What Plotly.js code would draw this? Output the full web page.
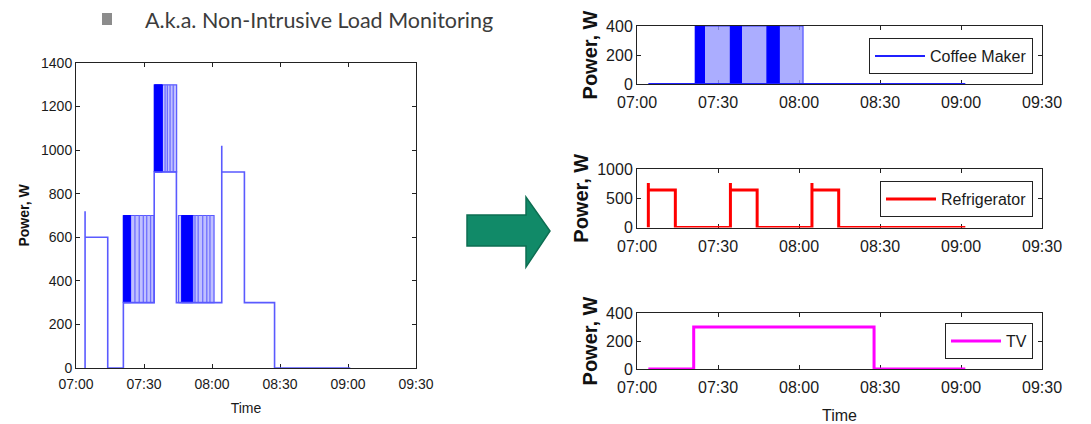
<!DOCTYPE html>
<html>
<head>
<meta charset="utf-8">
<script src="https://cdn.plot.ly/plotly-3.0.1.min.js"></script>
<style>
html,body{margin:0;padding:0;background:#fff;}
#chart{width:1091px;height:424px;}
</style>
</head>
<body>
<div id="chart"></div>
<script>
// ---------- DATA (time in minutes after 07:00) ----------
const tickMinutes = [0, 30, 60, 90, 120, 150];
const tickLabels = ['07:00', '07:30', '08:00', '08:30', '09:00', '09:30'];

// Aggregate (left) step signal
const aggTime  = [4, 4, 4, 14, 20.9, 34.5, 44.3, 64.3, 64.3, 74.3, 87.6, 121];
const aggPower = [0, 720, 600, 0, 300, 900, 300, 1020, 900, 300, 0, 0];
// Aggregate switching bursts
const aggBurstStart = [20.9, 34.5, 45.2];
const aggBurstEnd   = [34.4, 44.4, 60.9];
const aggBurstLow   = [300, 900, 300];
const aggBurstHigh  = [700, 1300, 700];
const aggDenseStart = [20.9, 34.6, 46.6];
const aggDenseEnd   = [24.1, 38.1, 51.5];
const aggSwitchTimes = [26.0, 27.9, 29.7, 31.2, 32.9, 39.3, 40.3, 41.5, 42.9, 52.5, 53.9, 55.9, 57.7, 59.1];
const aggSwitchLow   = [300, 300, 300, 300, 300, 900, 900, 900, 900, 300, 300, 300, 300, 300];
const aggSwitchHigh  = [700, 700, 700, 700, 700, 1300, 1300, 1300, 1300, 700, 700, 700, 700, 700];

// Coffee maker
const coffeeTime  = [4.2, 121.6];
const coffeePower = [0, 0];
const coffeeBurstStart = [21.6, 34.6, 48.2];
const coffeeBurstEnd   = [34.6, 48.2, 61.5];
const coffeeDenseEnd   = [25.0, 38.7, 52.7];
const coffeeBurstLow   = [0, 0, 0];
const coffeeBurstHigh  = [400, 400, 400];

// Refrigerator
const fridgeTime  = [4.2, 4.2, 4.2, 14.2, 34.6, 34.6, 34.6, 44.5, 64.8, 64.8, 64.8, 74.7, 121.6];
const fridgePower = [0, 760, 640, 0, 0, 760, 640, 0, 0, 760, 640, 0, 0];

// TV
const tvTime  = [4.2, 21.0, 87.8, 121.6];
const tvPower = [0, 300, 0, 0];

// ---------- helpers ----------
const W = 1091, H = 424;
const px = x => x / W;
const py = y => 1 - y / H;

function rects(s, e, lo, hi) {
  const x = [], y = [];
  for (let i = 0; i < s.length; i++) {
    x.push(s[i], s[i], e[i], e[i], s[i], null);
    y.push(lo[i], hi[i], hi[i], lo[i], lo[i], null);
  }
  return {x, y};
}
function vlines(t, lo, hi) {
  const x = [], y = [];
  for (let i = 0; i < t.length; i++) {
    x.push(t[i], t[i], null);
    y.push(lo[i], hi[i], null);
  }
  return {x, y};
}

const FONT = '"Liberation Sans", Arial, sans-serif';
const BLUE = '#0000ff';
const MIDBLUE = '#5a5aff';

const traces = [];
// ---- left aggregate ----
let r = rects(aggBurstStart, aggBurstEnd, aggBurstLow, aggBurstHigh);
traces.push({x: r.x, y: r.y, xaxis: 'x', yaxis: 'y', mode: 'lines', fill: 'toself',
  fillcolor: 'rgba(150,150,255,0.6)', line: {color: MIDBLUE, width: 1.2}, showlegend: false, hoverinfo: 'skip'});
let v = vlines(aggSwitchTimes, aggSwitchLow, aggSwitchHigh);
traces.push({x: v.x, y: v.y, xaxis: 'x', yaxis: 'y', mode: 'lines',
  line: {color: '#6f6fff', width: 1.3}, showlegend: false, hoverinfo: 'skip'});
r = rects(aggDenseStart, aggDenseEnd, aggBurstLow, aggBurstHigh);
traces.push({x: r.x, y: r.y, xaxis: 'x', yaxis: 'y', mode: 'lines', fill: 'toself',
  fillcolor: BLUE, line: {color: BLUE, width: 1}, showlegend: false, hoverinfo: 'skip'});
traces.push({x: aggTime, y: aggPower, xaxis: 'x', yaxis: 'y', mode: 'lines',
  line: {color: MIDBLUE, width: 1.6, shape: 'hv'}, name: 'Aggregate', showlegend: false});

// ---- coffee maker ----
r = rects(coffeeBurstStart, coffeeBurstEnd, coffeeBurstLow, coffeeBurstHigh);
traces.push({x: r.x, y: r.y, xaxis: 'x2', yaxis: 'y2', mode: 'lines', fill: 'toself',
  fillcolor: 'rgba(150,152,255,0.8)', line: {color: '#3a3aff', width: 1}, showlegend: false, hoverinfo: 'skip'});
r = rects(coffeeBurstStart, coffeeDenseEnd, coffeeBurstLow, coffeeBurstHigh);
traces.push({x: r.x, y: r.y, xaxis: 'x2', yaxis: 'y2', mode: 'lines', fill: 'toself',
  fillcolor: BLUE, line: {color: BLUE, width: 1}, showlegend: false, hoverinfo: 'skip'});
traces.push({x: coffeeTime, y: coffeePower, xaxis: 'x2', yaxis: 'y2', mode: 'lines',
  line: {color: '#2020ff', width: 2, shape: 'hv'}, name: 'Coffee Maker', legend: 'legend'});

// ---- refrigerator ----
traces.push({x: fridgeTime, y: fridgePower, xaxis: 'x3', yaxis: 'y3', mode: 'lines',
  line: {color: '#ff0000', width: 3, shape: 'hv'}, name: 'Refrigerator', legend: 'legend2'});

// ---- TV ----
traces.push({x: tvTime, y: tvPower, xaxis: 'x4', yaxis: 'y4', mode: 'lines',
  line: {color: '#ff00ff', width: 3, shape: 'hv'}, name: 'TV', legend: 'legend3'});

function xax(dom, anchor, size, lblOff, title, titleOff) {
  const a = {domain: dom, anchor: anchor, range: [0, 150], tickmode: 'array',
    tickvals: tickMinutes, ticktext: tickLabels, ticks: 'inside', ticklen: 4, tickcolor: '#222',
    mirror: 'allticks', showline: true, linecolor: '#222', linewidth: 1, showgrid: false,
    zeroline: false, layer: 'below traces', ticklabelstandoff: lblOff,
    tickfont: {family: FONT, size: size, color: '#1a1a1a'}, fixedrange: true};
  if (title) a.title = {text: title, font: {family: FONT, size: size, color: '#1a1a1a'}, standoff: titleOff};
  return a;
}
function yax(dom, anchor, range, vals, size, tsize, tOff) {
  return {domain: dom, anchor: anchor, range: range, tickmode: 'array', tickvals: vals,
    ticks: 'inside', ticklen: 4, tickcolor: '#222', mirror: 'allticks', showline: true,
    linecolor: '#222', linewidth: 1, showgrid: false, zeroline: false, layer: 'below traces',
    tickfont: {family: FONT, size: size, color: '#1a1a1a'}, fixedrange: true,
    title: {text: '<b>Power, W</b>', font: {family: FONT, size: tsize, color: '#111'}, standoff: tOff}};
}

const legendBase = {bgcolor: '#fff', bordercolor: '#222', borderwidth: 1,
  font: {family: FONT, size: 16, color: '#1a1a1a'}, xanchor: 'right', yanchor: 'top', itemwidth: 50};

const layout = {
  width: W, height: H, margin: {l: 0, r: 0, t: 0, b: 0},
  paper_bgcolor: '#fff', plot_bgcolor: '#fff', showlegend: true,
  xaxis: xax([px(76), px(416)], 'y', 14, 3, 'Time', 12),
  yaxis: yax([py(368), py(63)], 'x', [0, 1400], [0, 200, 400, 600, 800, 1000, 1200, 1400], 14, 14, 8),
  xaxis2: xax([px(637), px(1042)], 'y2', 16, 4),
  yaxis2: yax([py(84), py(26)], 'x2', [0, 400], [0, 200, 400], 16, 20, 3),
  xaxis3: xax([px(637), px(1042)], 'y3', 16, 4),
  yaxis3: yax([py(227.5), py(169)], 'x3', [0, 1000], [0, 500, 1000], 16, 20, 3),
  xaxis4: xax([px(637), px(1042)], 'y4', 16, 4, 'Time', 14),
  yaxis4: yax([py(369), py(313)], 'x4', [0, 400], [0, 200, 400], 16, 20, 3),
  legend: Object.assign({}, legendBase, {x: px(1033), y: py(38)}),
  legend2: Object.assign({}, legendBase, {x: px(1033), y: py(181)}),
  legend3: Object.assign({}, legendBase, {x: px(1033), y: py(323)}),
  shapes: [
    {type: 'rect', xref: 'paper', yref: 'paper', x0: px(102), x1: px(112), y0: py(25), y1: py(13),
     fillcolor: '#8c8c8c', line: {width: 0}},
    {type: 'path', xref: 'paper', yref: 'paper',
     path: 'M' + px(467) + ',' + py(215) + ' L' + px(526) + ',' + py(215) + ' L' + px(526) + ',' + py(197) +
           ' L' + px(550) + ',' + py(231) + ' L' + px(526) + ',' + py(267) + ' L' + px(526) + ',' + py(246) +
           ' L' + px(467) + ',' + py(246) + ' Z',
     fillcolor: '#118a68', line: {color: '#0d6e52', width: 1.5}}
  ],
  annotations: [
    {xref: 'paper', yref: 'paper', x: px(143), y: py(20), xanchor: 'left', yanchor: 'middle',
     text: 'A.k.a. Non-Intrusive Load Monitoring', showarrow: false,
     font: {family: 'Lato, "Open Sans", sans-serif', size: 21.5, color: '#3c3c3c'}}
  ]
};

Plotly.newPlot('chart', traces, layout, {staticPlot: true, displayModeBar: false});
</script>
</body>
</html>
